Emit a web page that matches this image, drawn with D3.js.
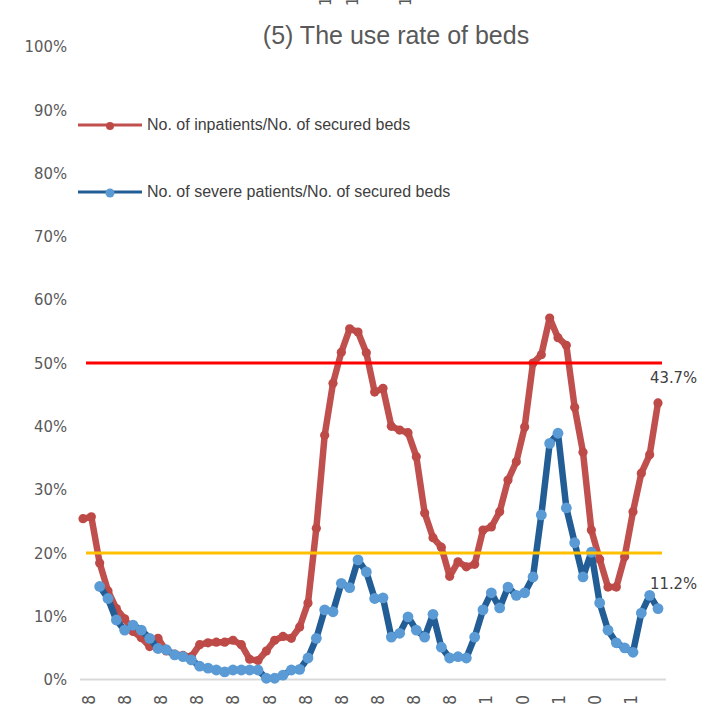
<!DOCTYPE html>
<html>
<head>
<meta charset="utf-8">
<script src="https://cdn.jsdelivr.net/npm/d3@7"></script>
<style>
  html, body { margin: 0; padding: 0; background: #ffffff; }
  svg { display: block; }
</style>
</head>
<body>
<svg id="chart" width="709" height="707"></svg>
<script>
// ---------------- data ----------------
const periods = d3.range(1, 71);   // 70 reporting periods
const inpatientRate = [25.4,25.7,18.4,14.0,11.2,9.6,7.6,6.6,5.2,6.5,4.5,4.0,3.8,3.6,5.5,5.8,5.9,5.9,6.2,5.5,
  3.2,3.0,4.5,6.2,6.8,6.5,8.3,12.1,23.9,38.6,46.8,51.7,55.4,54.9,51.6,45.4,46.0,40.0,39.4,39.0,
  35.2,26.3,22.4,20.9,16.3,18.6,17.8,18.2,23.6,24.1,26.5,31.5,34.4,39.9,50.0,51.3,57.1,54.0,52.8,43.0,
  35.9,23.6,19.0,14.6,14.6,19.4,26.5,32.6,35.5,43.7];
const severeRate = [null,null,14.7,12.8,9.4,7.8,8.6,7.8,6.5,4.9,4.7,3.9,3.6,3.1,2.1,1.8,1.5,1.2,1.5,1.5,
  1.5,1.5,0.2,0.2,0.7,1.5,1.6,3.4,6.5,11.0,10.7,15.2,14.5,18.9,17.0,12.8,12.9,6.7,7.3,9.9,
  7.8,6.7,10.3,5.1,3.4,3.6,3.4,6.7,11.0,13.7,11.3,14.6,13.3,13.7,16.2,26.0,37.3,38.9,27.1,21.6,
  16.2,20.1,12.1,7.8,5.8,5.0,4.3,10.5,13.3,11.2];
const seriesNames = ["No. of inpatients/No. of secured beds", "No. of severe patients/No. of secured beds"];
const yTicks = [0,10,20,30,40,50,60,70,80,90,100];
const xTickLabels = ["8","8","8","8","8","8","8","8","8","8","8","1","0","1","0","1"];
const thresholds = [50, 20];
const endLabels = ["43.7%", "11.2%"];
const titleText = "(5) The use rate of beds";
const topFragments = ["1","1","1"];

// ---------------- drawing ----------------
const svg = d3.select("#chart");
const RED = "#c0504d", RED_DOT = "#bd4a47", BLUE_LINE = "#225d95", BLUE_DOT = "#5b9bd5";
const labelFont = "'DejaVu Sans Condensed', 'Liberation Sans', Arial, sans-serif";

const x = d3.scalePoint().domain(periods).range([83, 658]);
const y = d3.scaleLinear().domain([0, 100]).range([679.5, 46.5]);

// fragments of the previous chart's labels at the very top edge
const fragPos = [325, 352, 405];
svg.append("g").selectAll("text").data(topFragments).join("text")
  .attr("transform", (d, i) => `translate(${fragPos[i]},6) rotate(-90)`)
  .attr("text-anchor", "start").attr("dy", "0.35em")
  .attr("font-family", labelFont).attr("font-size", 16).attr("fill", "#595959")
  .text(d => d);

// title
svg.append("text").attr("x", 396).attr("y", 44).attr("text-anchor", "middle")
  .attr("font-family", "'Liberation Sans', Arial, sans-serif").attr("font-size", 25)
  .attr("fill", "#595959").text(titleText);

// y axis labels
const yAxis = d3.axisLeft(y).tickValues(yTicks).tickFormat(d => d + "%").tickSize(0).tickPadding(0);
const yg = svg.append("g").attr("transform", "translate(67,0)").call(yAxis);
yg.select(".domain").remove();
yg.selectAll("text").attr("font-family", labelFont).attr("font-size", 16.5).attr("fill", "#595959");

// baseline gridline at 0%
svg.append("line").attr("x1", 80).attr("x2", 666).attr("y1", y(0)).attr("y2", y(0))
  .attr("stroke", "#d9d9d9").attr("stroke-width", 2);

// x tick labels (only last character visible, rotated)
const xl = d3.scalePoint().domain(d3.range(xTickLabels.length)).range([89, 631]);
svg.append("g").selectAll("text").data(xTickLabels).join("text")
  .attr("transform", (d, i) => `translate(${xl(i)},695) rotate(-90)`)
  .attr("text-anchor", "end").attr("dy", "0.35em")
  .attr("font-family", labelFont).attr("font-size", 17).attr("fill", "#595959")
  .text(d => d);

// series
const line = d3.line().defined(d => d[1] != null).x(d => x(d[0])).y(d => y(d[1]));
const redData = periods.map((p, i) => [p, inpatientRate[i]]);
const blueData = periods.map((p, i) => [p, severeRate[i]]);

svg.append("path").datum(redData).attr("d", line).attr("fill", "none")
  .attr("stroke", RED).attr("stroke-width", 6.5).attr("stroke-linejoin", "round").attr("stroke-linecap", "round");
svg.append("g").selectAll("circle").data(redData.filter(d => d[1] != null)).join("circle")
  .attr("cx", d => x(d[0])).attr("cy", d => y(d[1])).attr("r", 4.6).attr("fill", RED_DOT);

svg.append("path").datum(blueData).attr("d", line).attr("fill", "none")
  .attr("stroke", BLUE_LINE).attr("stroke-width", 6.5).attr("stroke-linejoin", "round").attr("stroke-linecap", "round");
svg.append("g").selectAll("circle").data(blueData.filter(d => d[1] != null)).join("circle")
  .attr("cx", d => x(d[0])).attr("cy", d => y(d[1])).attr("r", 5.4).attr("fill", BLUE_DOT);

// threshold lines
const thrColors = ["#ff0000", "#ffc000"];
svg.append("g").selectAll("line").data(thresholds).join("line")
  .attr("x1", 86).attr("x2", 662).attr("y1", d => y(d)).attr("y2", d => y(d))
  .attr("stroke", (d, i) => thrColors[i]).attr("stroke-width", 3);

// end labels
const endLabelY = [y(thresholds[0]) + 20, y(thresholds[1]) + 36];
svg.append("g").selectAll("text").data(endLabels).join("text")
  .attr("x", 650).attr("y", (d, i) => endLabelY[i])
  .attr("font-family", labelFont).attr("font-size", 16.5).attr("fill", "#404040")
  .text(d => d);

// legend
const legY = [125, 192];
const legColors = [[RED, RED_DOT, 4], [BLUE_LINE, BLUE_DOT, 4.5]];
const lg = svg.append("g");
seriesNames.forEach((name, i) => {
  lg.append("line").attr("x1", 78).attr("x2", 142).attr("y1", legY[i]).attr("y2", legY[i])
    .attr("stroke", legColors[i][0]).attr("stroke-width", 3);
  lg.append("circle").attr("cx", 110).attr("cy", legY[i] + 1).attr("r", legColors[i][2]).attr("fill", legColors[i][1]);
  lg.append("text").attr("x", 147).attr("y", legY[i] + 5)
    .attr("font-family", "'Liberation Sans', Arial, sans-serif").attr("font-size", 16)
    .attr("fill", "#404040").text(name);
});
</script>
</body>
</html>
